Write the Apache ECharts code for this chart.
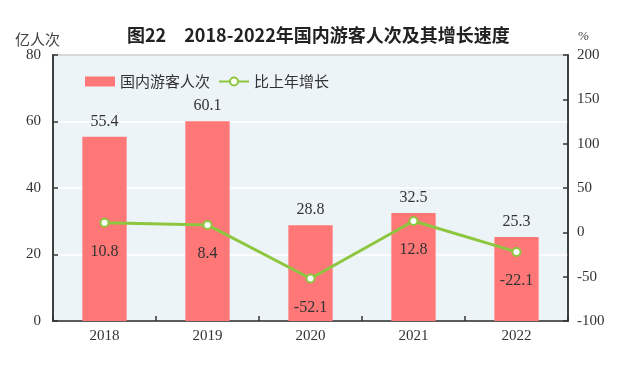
<!DOCTYPE html>
<html><head><meta charset="utf-8">
<script src="https://cdn.jsdelivr.net/npm/echarts@6/dist/echarts.min.js"></script>
<style>html,body{margin:0;padding:0;background:#fff}#c{width:642px;height:370px}</style>
</head><body><div id="c"></div>
<script>
const categories = ['2018', '2019', '2020', '2021', '2022'];
const visitors = [55.4, 60.1, 28.8, 32.5, 25.3];
const growth = [10.8, 8.4, -52.1, 12.8, -22.1];
const leftTicks = [0, 20, 40, 60, 80];
const rightTicks = [-100, -50, 0, 50, 100, 150, 200];

const serif = '"Liberation Serif", "DejaVu Serif", serif';
const cjk = '"Noto Sans CJK SC", sans-serif';
const chart = echarts.init(document.getElementById('c'));
chart.setOption({
  animation: false,
  title: {
    text: '图22　2018-2022年国内游客人次及其增长速度',
    left: 122, top: 21,
    textStyle: { fontFamily: cjk, fontSize: 18, fontWeight: 'bold', color: '#222' }
  },
  graphic: [
    { type: 'text', left: 15, top: 32, style: { text: '亿人次', font: '15px ' + cjk, fill: '#444' } },
    { type: 'text', left: 578, top: 30, style: { text: '%', font: '13px ' + serif, fill: '#444' } }
  ],
  legend: {
    left: 80, top: 69, itemWidth: 30, itemHeight: 10, itemGap: 8,
    textStyle: { fontFamily: cjk, fontSize: 15, color: '#333' },
    data: [
      { name: '国内游客人次', icon: 'rect' },
      { name: '比上年增长' }
    ]
  },
  grid: {
    left: 53, right: 74, top: 55, bottom: 49,
    show: true, backgroundColor: '#EDF4F8', borderColor: '#333', borderWidth: 1.5
  },
  xAxis: {
    type: 'category', data: categories,
    axisLine: { lineStyle: { color: '#333', width: 1.5 } },
    axisTick: { show: true, inside: true, length: 5, lineStyle: { color: '#333', width: 1.5 } },
    axisLabel: { fontFamily: serif, fontSize: 15, color: '#333', margin: 8 }
  },
  yAxis: [
    {
      type: 'value', min: leftTicks[0], max: leftTicks[leftTicks.length - 1], interval: 20,
      axisLine: { show: true, lineStyle: { color: '#333', width: 1.5 } },
      axisTick: { show: true, inside: true, length: 5, lineStyle: { color: '#333', width: 1.5 } },
      axisLabel: { fontFamily: serif, fontSize: 15, color: '#333', margin: 12 },
      splitLine: { show: true, lineStyle: { color: '#ffffff', width: 1.5 } }
    },
    {
      type: 'value', min: rightTicks[0], max: rightTicks[rightTicks.length - 1], interval: 50,
      axisLine: { show: true, lineStyle: { color: '#333', width: 1.5 } },
      axisTick: { show: true, inside: true, length: 5, lineStyle: { color: '#333', width: 1.5 } },
      axisLabel: { fontFamily: serif, fontSize: 15, color: '#333', margin: 9 },
      splitLine: { show: false }
    }
  ],
  series: [
    {
      name: '国内游客人次', type: 'bar', data: visitors, barWidth: '43%',
      itemStyle: { color: '#FF7777' },
      label: { show: true, position: 'top', distance: 7, fontFamily: serif, fontSize: 16, color: '#333',
        formatter: p => p.value.toFixed(1) }
    },
    {
      name: '比上年增长', type: 'line', yAxisIndex: 1, data: growth,
      symbol: 'circle', symbolSize: 8,
      lineStyle: { color: '#8DC63F', width: 3 },
      itemStyle: { color: '#fff', borderColor: '#8DC63F', borderWidth: 2 },
      label: { show: true, position: 'bottom', distance: 16, fontFamily: serif, fontSize: 16, color: '#333',
        formatter: p => p.value.toFixed(1) }
    }
  ]
});
</script></body></html>
